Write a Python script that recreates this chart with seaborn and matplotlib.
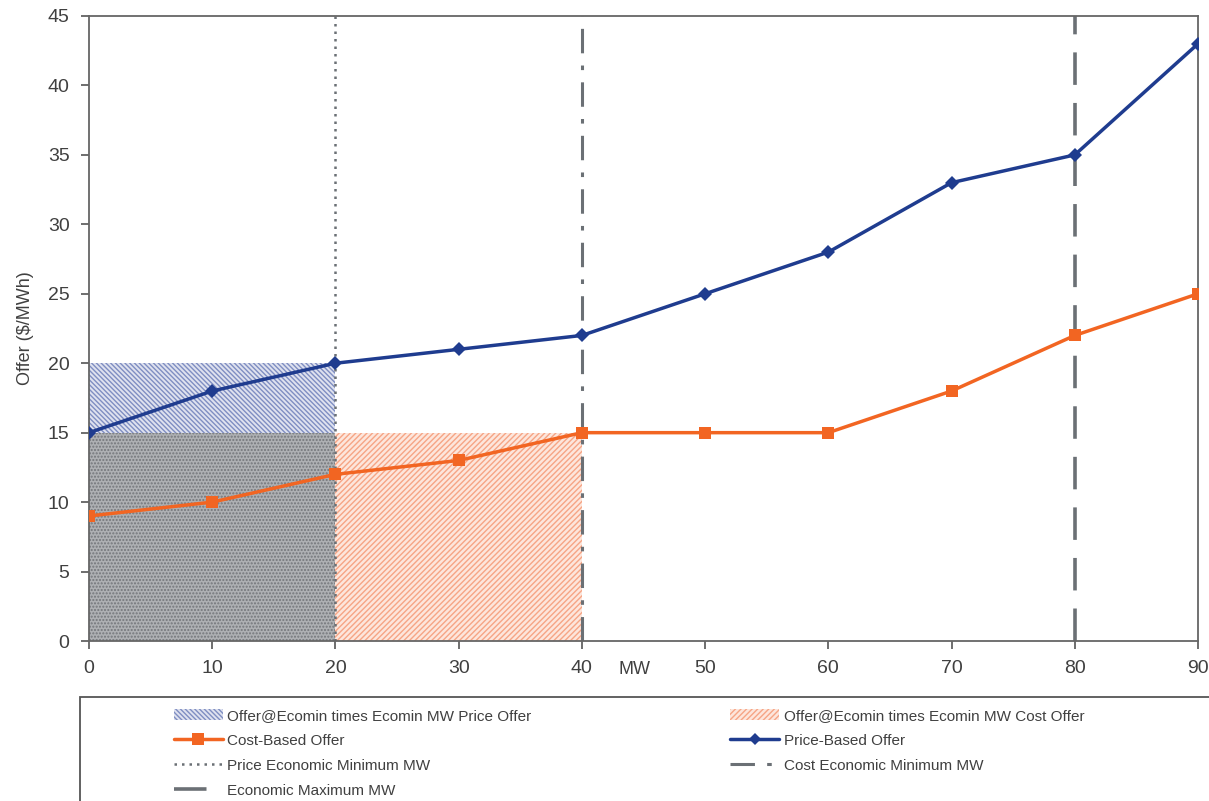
import numpy as np
import pandas as pd
import matplotlib
matplotlib.use('Agg')
import matplotlib.pyplot as plt
import seaborn as sns
from matplotlib.patches import Rectangle, Patch
from matplotlib.lines import Line2D

# data
mw = [0, 10, 20, 30, 40, 50, 60, 70, 80, 90]
price_offer = [15, 18, 20, 21, 22, 25, 28, 33, 35, 43]
cost_offer = [9, 10, 12, 13, 15, 15, 15, 18, 22, 25]
price_ecomin = 20
cost_ecomin = 40
eco_max = 80
price_at_ecomin = 20
cost_at_ecomin = 15

df = pd.DataFrame({'MW': mw, 'Price': price_offer, 'Cost': cost_offer})

sns.set_theme(style='white')
plt.rcParams['font.family'] = ['Liberation Sans', 'DejaVu Sans']
plt.rcParams['hatch.linewidth'] = 1.0

blue = '#1f3c8f'
orange = '#f26522'
grey = '#6b7075'

fig = plt.figure(figsize=(12.09, 8.01), dpi=100)
ax = fig.add_axes([89/1209, 1-641/801, (1198-89)/1209, (641-16)/801])

# hatched areas
ax.fill_between([0, price_ecomin], 0, price_at_ecomin, facecolor='#dfe2ef',
                edgecolor='#7f8ec2', hatch='\\\\\\\\\\\\\\', linewidth=0, zorder=1)
ax.fill_between([0, cost_ecomin], 0, cost_at_ecomin, facecolor='#fde6dc',
                edgecolor='#f6a585', hatch='//////', linewidth=0, zorder=1)
ax.fill_between([0, price_ecomin], 0, cost_at_ecomin, facecolor='#aeb0b3',
                edgecolor='#73767a', hatch='.....', linewidth=0, zorder=1.5)

# vertical reference lines
ax.axvline(price_ecomin, color=grey, lw=1.8, ls=(0, (1, 2)), zorder=2)
ax.axvline(cost_ecomin, color=grey, lw=2.2, ls=(0, (8, 4, 1.5, 4)), zorder=2)
ax.axvline(eco_max, color=grey, lw=2.6, ls=(0, (9, 5)), zorder=2)

sns.lineplot(data=df, x='MW', y='Cost', ax=ax, color=orange, lw=2.5,
             marker='s', markersize=9, markeredgewidth=0, zorder=3)
sns.lineplot(data=df, x='MW', y='Price', ax=ax, color=blue, lw=2.5,
             marker='D', markersize=7, markeredgewidth=0, zorder=3)

ax.set_xlim(0, 90)
ax.set_ylim(0, 45)
ax.set_xticks(range(0, 91, 10))
ax.set_yticks(range(0, 46, 5))
ax.tick_params(axis='both', direction='out', length=6, width=1.2, color='#555555',
               labelsize=14, labelcolor='#404040', pad=8, bottom=True, left=True)
for s in ax.spines.values():
    s.set_color('#666666')
    s.set_linewidth(1.3)

ax.set_xlabel('MW', fontsize=13, color='#404040')
ax.xaxis.set_label_coords((635-89)/(1198-89), -0.032)
ax.set_ylabel('Offer ($/MWh)', fontsize=13, color='#404040', labelpad=10)

# legend box
fig.patches.append(Rectangle((80/1209, -0.01), 1.0, (801-697)/801 + 0.01,
                             transform=fig.transFigure, fill=False,
                             edgecolor='#555555', lw=1.3))

h_pf = Patch(facecolor='#dfe2ef', edgecolor='#7f8ec2', hatch='\\\\\\\\\\\\\\', lw=0)
h_cf = Patch(facecolor='#fde6dc', edgecolor='#f6a585', hatch='//////', lw=0)
h_cb = Line2D([], [], color=orange, lw=2.5, marker='s', markersize=8, markeredgewidth=0)
h_pb = Line2D([], [], color=blue, lw=2.5, marker='D', markersize=6, markeredgewidth=0)
h_pm = Line2D([], [], color=grey, lw=1.8, ls=(0, (1, 2)))
h_cm = Line2D([], [], color=grey, lw=2.2, ls=(0, (8, 4, 1.5, 4)))
h_em = Line2D([], [], color=grey, lw=2.6, ls=(0, (9, 5)))

handles = [h_pf, h_cb, h_pm, h_em, h_cf, h_pb, h_cm]
labels = ['Offer@Ecomin times Ecomin MW Price Offer', 'Cost-Based Offer',
          'Price Economic Minimum MW', 'Economic Maximum MW',
          'Offer@Ecomin times Ecomin MW Cost Offer', 'Price-Based Offer',
          'Cost Economic Minimum MW']
fig.legend(handles, labels, ncol=2, loc='upper left',
           bbox_to_anchor=(160/1209, 1-695/801), frameon=False,
           fontsize=11, handlelength=3.2, handletextpad=0.3,
           labelspacing=0.72, columnspacing=13, labelcolor='#404040')

fig.savefig('out.png', dpi=100)
